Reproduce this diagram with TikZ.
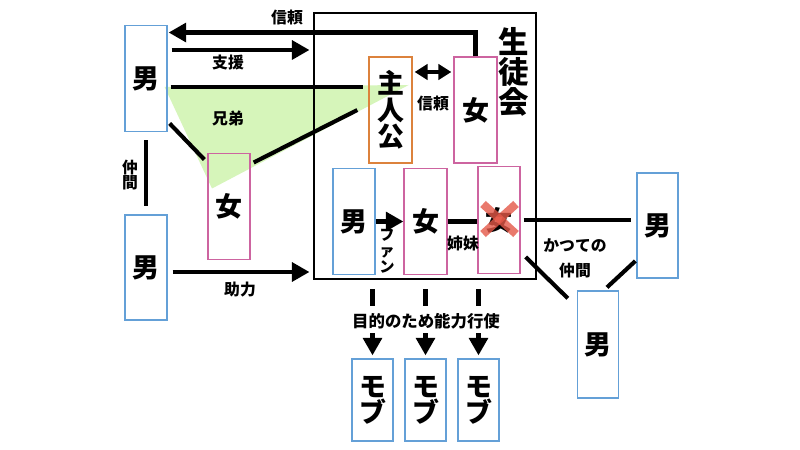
\documentclass[tikz,border=0pt]{standalone}
\usepackage{fontspec}
\setmainfont{Noto Sans CJK JP}
\usetikzlibrary{arrows.meta,calc}
\definecolor{bxblue}{RGB}{100,160,215}
\definecolor{bxpink}{RGB}{205,100,160}
\definecolor{bxorange}{RGB}{220,130,60}
\definecolor{trigreen}{RGB}{214,245,186}
\definecolor{xred}{RGB}{228,88,72}
\pgfdeclarelayer{bg}
\pgfsetlayers{bg,main}
\begin{document}
\begin{tikzpicture}[x=0.3mm,y=-0.3mm,
  box/.style={draw,line width=1.1pt,inner sep=0pt,minimum width=12.6mm,minimum height=32mm,
    font=\fontsize{23}{22.5}\selectfont\bfseries,align=center},
  mob/.style={box,draw=bxblue,minimum width=12.3mm,minimum height=24.6mm},
  lbl/.style={font=\fontsize{13.5}{13.6}\selectfont\bfseries,inner sep=0pt,align=center},
  conn/.style={line width=3.5pt},
  arr/.style={conn,-{Triangle[length=15pt,width=16pt]}},
  biarr/.style={line width=3.2pt,{Triangle[length=11pt,width=13pt]}-{Triangle[length=11pt,width=13pt]}},
  xline/.style={line width=7pt,draw=xred,opacity=0.8}]
\useasboundingbox (0,0) rectangle (800,450);

% frame of the council
\node[draw,line width=0.9pt,minimum width=66.6mm,minimum height=79.8mm,inner sep=0pt] (sc) at (425,146) {};
\node[font=\fontsize{26}{23}\selectfont\bfseries,align=center,inner sep=0pt] (sct) at (514,72) {生\\徒\\会};

% boxes
\node[box,draw=bxblue] (mTL) at (146,78.5) {男};
\node[box,draw=bxblue,minimum height=31.5mm] (mBL) at (146,267.5) {男};
\node[box,draw=bxpink] (wL) at (229,206.5) {女};
\node[box,draw=bxorange,minimum width=12.9mm,minimum height=31.8mm] (hero) at (390.5,110) {主\\人\\公};
\node[box,draw=bxpink,minimum width=12.9mm,minimum height=31.8mm] (wSC) at (475.5,110) {女};
\node[box,draw=bxblue] (mIn) at (354,221.5) {男};
\node[box,draw=bxpink,minimum width=12.9mm] (wMid) at (425.5,221.5) {女};
\node[box,draw=bxpink] (wX) at (499,220) {女};
\node[box,draw=bxblue,minimum width=12.3mm,minimum height=31.5mm] (mR1) at (657.5,225.5) {男};
\node[box,draw=bxblue,minimum width=12.3mm,minimum height=32.1mm] (mR2) at (598,344.5) {男};
\node[mob] (mob1) at (372.5,400) {モ\\ブ};
\node[mob] (mob2) at (425.5,400) {モ\\ブ};
\node[mob] (mob3) at (478.5,400) {モ\\ブ};

% background
\begin{pgfonlayer}{bg}
\fill[white] (0,0) rectangle (800,450);
\fill[trigreen] ($(mTL.east)+(-3,8.5)$) -- ($(hero.east)+(-4,-25)$) -- ($(wL.center)+(-17,-18)$) -- cycle;
\end{pgfonlayer}

% connectors
\draw[arr] (wSC.north) |- ($(mTL.north east)+(1,8)$);
\draw[arr] ($(mTL.east)+(4,-28.5)$) -- ($(sc.west |- mTL.east)+(-4,-28.5)$);
\draw[conn] ($(mTL.east)+(3,8.5)$) -- ($(hero.west)+(-5,-23)$);
\draw[conn] ($(mTL.south east)+(2,-9)$) -- ($(wL.north west)+(-3,7)$);
\draw[conn] ($(wL.north east)+(3,10)$) -- ($(hero.west)+(-11,0)$);
\draw[conn] ($(mTL.south)+(0,8)$) -- ($(mBL.north)+(0,-8)$);
\draw[arr] ($(mBL.east)+(5,4.5)$) -- ($(sc.west |- mBL.east)+(-4,4.5)$);
\draw[biarr] ($(hero.east)+(2,-38)$) -- ($(wSC.west)+(-2,-38)$);
\draw[arr] (mIn.east) -- (wMid.west);
\draw[conn] (wMid.east) -- (wX.west |- wMid.east);
\draw[conn] ($(wX.east)+(3,0)$) -- ($(mR1.west |- wX.east)+(-5,0)$);
\draw[conn] ($(wX.east)+(5,37)$) -- ($(mR2.north west)+(-9,8)$);
\draw[conn] ($(mR1.west)+(-1,35.5)$) -- ($(mR2.north)+(9,-3)$);
\foreach \m in {mob1,mob2,mob3}{
  \draw[conn] ($(\m.north)+(0,-69)$) -- ($(\m.north)+(0,-52)$);
  \draw[arr] ($(\m.north)+(0,-25)$) -- ($(\m.north)+(0,-3)$);
}

% cross
\draw[xline] ($(wX.center)+(-16,-16)$) -- ($(wX.center)+(17,14)$);
\draw[xline] ($(wX.center)+(17,-16)$) -- ($(wX.center)+(-16,14)$);

% labels
\node[lbl] (l1) at (287,18) {信頼};
\node[lbl] (l2) at (228,63) {支援};
\node[lbl] (l3) at (228,118) {兄弟};
\node[lbl] (l4) at (433,104) {信頼};
\node[lbl] (l5) at (130,175) {仲\\間};
\node[lbl] (l6) at (240,290) {助力};
\node[lbl,font=\fontsize{13}{13.6}\selectfont\bfseries] (l7) at (387,251) {フ\\ァ\\ン};
\node[lbl] (l8) at (463,243) {姉妹};
\node[lbl] (l9) at (575,246) {かつての};
\node[lbl] (l10) at (575,271) {仲間};
\node[lbl,font=\fontsize{14}{14}\selectfont\bfseries] (l11) at (426,321) {目的のため能力行使};
\end{tikzpicture}
\end{document}
